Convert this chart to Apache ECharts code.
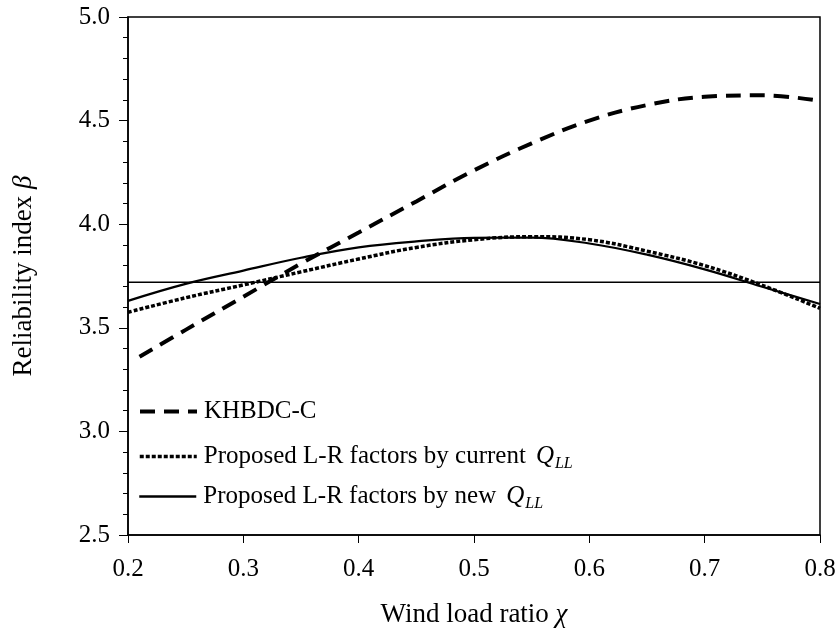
<!DOCTYPE html>
<html>
<head>
<meta charset="utf-8">
<script src="https://cdn.jsdelivr.net/npm/echarts@6/dist/echarts.min.js"></script>
<style>
  html, body { margin: 0; padding: 0; background: #fff; }
  #chart { width: 839px; height: 638px; }
</style>
</head>
<body>
<div id="chart"></div>
<script>
// Wind load ratio (x) and reliability index (y) for each design case
const windRatio = [0.20, 0.25, 0.30, 0.35, 0.40, 0.45, 0.50, 0.55, 0.60, 0.65, 0.70, 0.75, 0.80];
const khbdcX = [0.21, 0.25, 0.30, 0.35, 0.40, 0.45, 0.50, 0.55, 0.60, 0.65, 0.70, 0.75, 0.80];
const khbdcBeta = [3.36, 3.49, 3.65, 3.81, 3.96, 4.11, 4.26, 4.39, 4.50, 4.575, 4.615, 4.622, 4.595];
const currentQllBeta = [3.575, 3.645, 3.707, 3.77, 3.832, 3.888, 3.925, 3.94, 3.925, 3.87, 3.80, 3.705, 3.594];
const newQllBeta = [3.63, 3.712, 3.776, 3.838, 3.888, 3.917, 3.934, 3.935, 3.907, 3.853, 3.782, 3.698, 3.615];
const targetBeta = 3.72;
const xTicks = { min: 0.2, max: 0.8, interval: 0.1 };
const yTicks = { min: 2.5, max: 5.0, interval: 0.5 };

const seriesNames = ['KHBDC-C', 'Proposed L-R factors by current', 'Proposed L-R factors by new'];

const FONT = '"Liberation Serif", "Times New Roman", serif';
const pair = (xs, ys) => xs.map((x, i) => [x, ys[i]]);

// line styles shared by each curve and its legend sample
const dashedStyle = { color: '#000', width: 4, type: [15, 9], cap: 'butt' };
const dottedStyle = { color: '#000', width: 3.5, type: [4, 2], cap: 'butt' };
const solidStyle = { color: '#000', width: 2.2, type: 'solid' };

const legendRich = {
  t: { fontFamily: FONT, fontSize: 25, color: '#000' },
  q: { fontFamily: FONT, fontSize: 25, fontStyle: 'italic', color: '#000', padding: [0, 0, 0, 10] },
  s: { fontFamily: FONT, fontSize: 16, fontStyle: 'italic', color: '#000', padding: [14, 0, 0, 1] }
};
const legendText = name => name === seriesNames[0]
  ? '{t|' + name + '}'
  : '{t|' + name + '}{q|Q}{s|LL}';

function legendFor(name, top, lineStyle) {
  return {
    data: [name],
    left: 138,
    top: top,
    padding: 0,
    itemWidth: 57,
    itemHeight: 14,
    itemGap: 0,
    selectedMode: false,
    formatter: legendText,
    // line sample only, no marker in the middle
    itemStyle: { opacity: 0 },
    lineStyle: lineStyle,
    textStyle: { rich: legendRich, fontFamily: FONT, fontSize: 25, color: '#000', padding: [0, 0, 0, 2] }
  };
}

const chart = echarts.init(document.getElementById('chart'), null, { renderer: 'canvas' });
chart.setOption({
  animation: false,
  backgroundColor: '#fff',
  textStyle: { fontFamily: FONT },
  grid: {
    left: 128, right: 19, top: 17, bottom: 103,
    show: true, borderColor: '#000', borderWidth: 1.5, backgroundColor: 'transparent'
  },
  legend: [
    legendFor(seriesNames[0], 399, dashedStyle),
    legendFor(seriesNames[1], 444, dottedStyle),
    legendFor(seriesNames[2], 484, { color: '#000', width: 2.5, type: 'solid' })
  ],
  xAxis: {
    type: 'value',
    min: xTicks.min, max: xTicks.max, interval: xTicks.interval,
    name: 'Wind load ratio {i|χ}',
    nameLocation: 'middle',
    nameGap: 66,
    nameTextStyle: {
      fontFamily: FONT, fontSize: 27, color: '#000',
      rich: { i: { fontFamily: FONT, fontSize: 27, fontStyle: 'italic', color: '#000' } }
    },
    axisLine: { show: true, onZero: false, lineStyle: { color: '#000', width: 1.5 } },
    axisTick: { show: true, inside: false, length: 8, lineStyle: { color: '#000', width: 1 } },
    axisLabel: {
      fontFamily: FONT, fontSize: 25, color: '#000', margin: 22,
      formatter: v => v.toFixed(1)
    },
    splitLine: { show: false }
  },
  yAxis: {
    type: 'value',
    min: yTicks.min, max: yTicks.max, interval: yTicks.interval,
    name: 'Reliability index {i|β}',
    nameLocation: 'middle',
    nameGap: 91,
    nameTextStyle: {
      fontFamily: FONT, fontSize: 27, color: '#000',
      rich: { i: { fontFamily: FONT, fontSize: 27, fontStyle: 'italic', color: '#000' } }
    },
    axisLine: { show: true, onZero: false, lineStyle: { color: '#000', width: 1.5 } },
    axisTick: { show: true, inside: false, length: 9, lineStyle: { color: '#000', width: 1 } },
    minorTick: { show: true, splitNumber: 5, length: 5, lineStyle: { color: '#000', width: 1 } },
    axisLabel: {
      fontFamily: FONT, fontSize: 25, color: '#000', margin: 18,
      formatter: v => v.toFixed(1)
    },
    splitLine: { show: false }
  },
  series: [
    {
      name: seriesNames[0],
      type: 'line',
      data: pair(khbdcX, khbdcBeta),
      smooth: 0.4,
      symbol: 'none',
      lineStyle: dashedStyle,
      itemStyle: { color: '#000' },
      z: 3
    },
    {
      name: seriesNames[1],
      type: 'line',
      data: pair(windRatio, currentQllBeta),
      smooth: 0.4,
      symbol: 'none',
      lineStyle: dottedStyle,
      itemStyle: { color: '#000' },
      z: 3
    },
    {
      name: seriesNames[2],
      type: 'line',
      data: pair(windRatio, newQllBeta),
      smooth: 0.4,
      symbol: 'none',
      lineStyle: solidStyle,
      itemStyle: { color: '#000' },
      z: 3
    },
    {
      name: 'target',
      type: 'line',
      data: [[xTicks.min, targetBeta], [xTicks.max, targetBeta]],
      symbol: 'none',
      lineStyle: { color: '#000', width: 1.6 },
      itemStyle: { color: '#000' },
      z: 2
    }
  ]
});
</script>
</body>
</html>
